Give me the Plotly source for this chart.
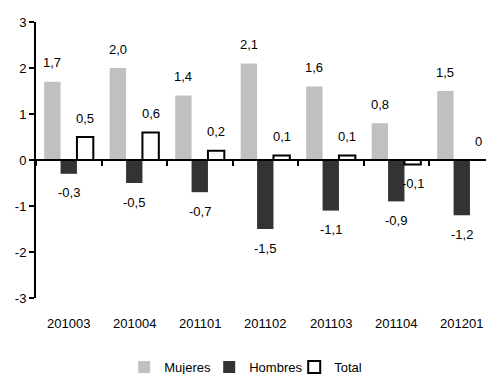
import plotly.graph_objects as go

categories = ["201003", "201004", "201101", "201102", "201103", "201104", "201201"]
mujeres = [1.7, 2.0, 1.4, 2.1, 1.6, 0.8, 1.5]
hombres = [-0.3, -0.5, -0.7, -1.5, -1.1, -0.9, -1.2]
total = [0.5, 0.6, 0.2, 0.1, 0.1, -0.1, 0.0]
y_ticks = [-3, -2, -1, 0, 1, 2, 3]
y_ticktext = ["-3", "-2", "-1", "0", "1", "2", "3"]

FONT = "Liberation Sans, Arial, sans-serif"


def fmt(v):
    if v == 0:
        return "0"
    return f"{v:.1f}".replace(".", ",")


fig = go.Figure()
fig.add_bar(name="Mujeres", x=categories, y=mujeres,
            marker=dict(color="#c0c0c0", line=dict(width=0)))
fig.add_bar(name="Hombres", x=categories, y=hombres,
            marker=dict(color="#333333", line=dict(width=0)))
fig.add_bar(name="Total", x=categories, y=total,
            marker=dict(color="white", line=dict(color="black", width=2)))

annotations = []
for series, shift in ((mujeres, -16.4), (hombres, 0), (total, 16.4)):
    for i, v in enumerate(series):
        annotations.append(dict(
            x=i, y=v, xref="x", yref="y", text=fmt(v), showarrow=False,
            xshift=shift, yshift=19 if v >= 0 else -19,
            yanchor="middle", xanchor="center",
            font=dict(family=FONT, size=13, color="black")))
for i, c in enumerate(categories):
    annotations.append(dict(
        x=i, y=-0.094, xref="x", yref="paper", text=c, showarrow=False,
        yanchor="middle", xanchor="center",
        font=dict(family=FONT, size=13, color="black")))

fig.update_layout(
    width=486, height=374,
    margin=dict(l=36, r=0, t=22, b=76, autoexpand=False),
    paper_bgcolor="white", plot_bgcolor="white",
    barmode="group", bargap=0.25, bargroupgap=0,
    font=dict(family=FONT, size=13, color="black"),
    showlegend=True,
    legend=dict(orientation="h", x=0.196, xanchor="left", y=-0.25,
                yanchor="middle", font=dict(family=FONT, size=13),
                itemwidth=30, tracegroupgap=0,
                entrywidth=40, entrywidthmode="pixels"),
    annotations=annotations,
    xaxis=dict(type="category", range=[-0.5, 6.37], anchor="free", position=0.5,
               showline=True, linecolor="black", linewidth=2,
               ticks="outside", tickson="boundaries", ticklen=5, tickwidth=1.5,
               tickcolor="black", showticklabels=False, showgrid=False,
               zeroline=False, fixedrange=True),
    yaxis=dict(range=[-3, 3], domain=[0, 1], tickvals=y_ticks,
               ticktext=y_ticktext,
               showline=True, linecolor="black", linewidth=2,
               ticks="outside", ticklen=5, tickwidth=1.5, tickcolor="black",
               showgrid=False, zeroline=False,
               tickfont=dict(family=FONT, size=13, color="black")),
)

fig.write_html("out.html", config={"displayModeBar": False},
               post_script="document.body.style.margin='0';document.body.style.overflow='hidden';")
